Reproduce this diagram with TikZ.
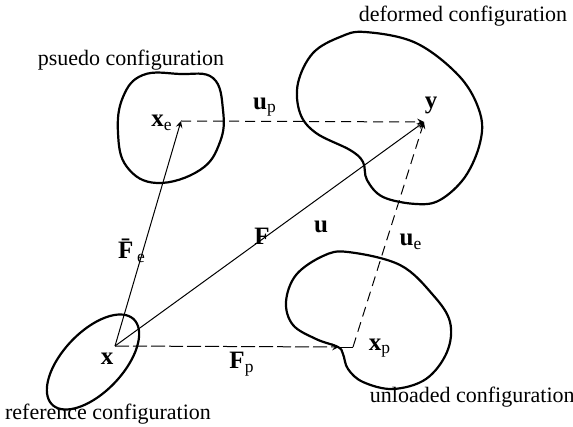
\documentclass[tikz,border=0pt]{standalone}
\usepackage{fontspec}
\setmainfont{Liberation Serif}
\usepackage{tikz}
\usetikzlibrary{calc, arrows.meta}

\begin{document}
\begin{tikzpicture}[x=0.5pt, y=-0.5pt, >=stealth,
    blob/.style={line width=1.1pt},
    vec/.style={->, line width=0.5pt},
    dvec/.style={->, line width=0.5pt, dash pattern=on 5pt off 3pt},
    lab/.style={font=\fontsize{11}{13}\selectfont, inner sep=1pt},
    sym/.style={font=\fontsize{12.5}{14}\selectfont, inner sep=1pt}]

    \useasboundingbox (0,0) rectangle (573,427);

    % ================= Points =================
    \coordinate (x)    at (115,346);
    \coordinate (xe)   at (181,121);
    \coordinate (y)    at (424,122);
    \coordinate (xp)   at (353,347);
    \coordinate (xpin) at (339,347);

    % ================= Configurations =================
    % reference
    \draw[blob] plot[domain=0:360, samples=72, smooth cycle]
        ({93 + 59*cos(\x)*0.69 + 30*sin(\x)*0.725}, {362 - 59*cos(\x)*0.725 + 30*sin(\x)*0.69});
    % pseudo
    \draw[blob] plot[smooth cycle, tension=0.7] coordinates {(143,75) (180,74) (213,78) (223,110)
        (220,142) (200,170) (157,183) (127,167) (118,133) (123,97)};
    % deformed
    \draw[blob] plot[smooth cycle, tension=0.6] coordinates {(365,32) (416,43) (460,77) (480,113)
        (480,143) (465,177) (440,200) (416,204) (383,197) (367,180) (363,162) (350,150)
        (316,133) (300,113) (298,83) (313,53) (340,37)};
    % unloaded
    \draw[blob] plot[smooth cycle, tension=0.6] coordinates {(348,252) (400,265) (433,295) (450,322)
        (447,352) (426,379) (393,389) (363,382) (348,369) (343,354) (338,347) (316,339)
        (293,325) (286,302) (296,275) (323,256)};

    % ================= Maps =================
    \draw[vec] (x) -- (xe);
    \draw[vec] (x) -- (y);
    \draw[->, line width=0.5pt, dash pattern=on 7pt off 2pt] (x) -- (xpin);
    \draw[line width=0.5pt] (xpin) -- (xp);
    \draw[dvec] (xe) -- (y);
    \draw[dvec] (xp) -- (y);

    % ================= Labels =================
    \node[sym] (lx)  at (107,359) {\textbf{x}};
    \node[sym] (lxe) at (162,123) {\textbf{x}\textsubscript{e}};
    \node[sym] (ly)  at (431,105) {\textbf{y}};
    \node[sym] (lxp) at (380,348) {\textbf{x}\textsubscript{p}};
    \node[sym] (lup) at (265,107) {\textbf{u}\textsubscript{p}};
    \node[sym] (lu)  at (321,227) {\textbf{u}};
    \node[sym] (lue) at (411,242) {\textbf{u}\textsubscript{e}};
    \node[sym] (lF)  at (262,236) {\textbf{F}};
    \node[sym] (lFe) at (132,251) {\textbf{\=F}\textsubscript{e}};
    \node[sym] (lFp) at (242,364) {\textbf{F}\textsubscript{p}};

    \node[lab] (cps) at (131,60)  {psuedo configuration};
    \node[lab] (cde) at (463,16)  {deformed configuration};
    \node[lab] (cre) at (108,414) {reference configuration};
    \node[lab, anchor=east] (cun) at (577,397) {unloaded configuration};

\end{tikzpicture}
\end{document}
